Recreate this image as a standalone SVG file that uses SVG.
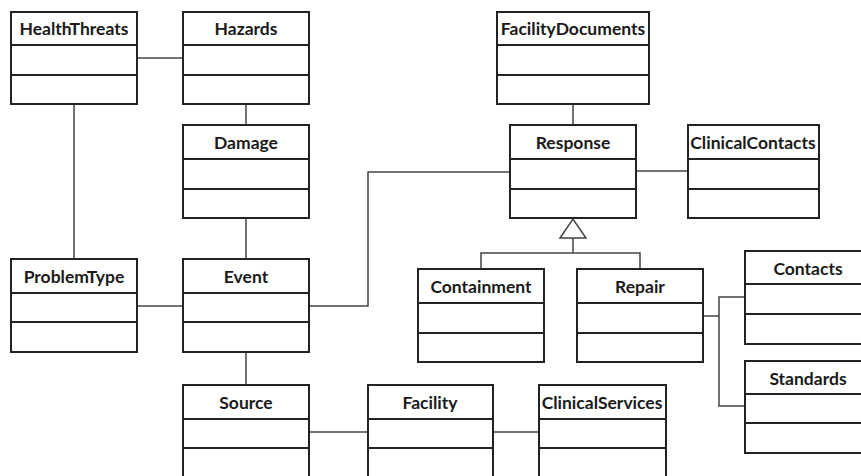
<svg xmlns="http://www.w3.org/2000/svg" width="861" height="476" viewBox="0 0 861 476">
<style>
.box{fill:#fff;stroke:#222;stroke-width:2}
.div{stroke:#222;stroke-width:2}
.t{font-family:Lato,"Open Sans","Liberation Sans",sans-serif;font-weight:bold;font-size:17.5px;fill:#1a1a1a;text-anchor:middle}
.c{fill:none;stroke:#444;stroke-width:1.5}
</style>
<rect width="861" height="476" fill="#fff"/>
<g id="connectors">
<path class="c" d="M137 58H183"/>
<path class="c" d="M246 104V125"/>
<path class="c" d="M246 218V259"/>
<path class="c" d="M74 104V259"/>
<path class="c" d="M137 306H183"/>
<path class="c" d="M246 352V385"/>
<path class="c" d="M309 306H368V172H510"/>
<path class="c" d="M573 104V125"/>
<path class="c" d="M636 171H688"/>
<path class="c" d="M573 238V253M481 269V253H640V269"/>
<path class="c" d="M560 238L573 219L586 238Z" fill="#fff"/>
<path class="c" d="M703 316H719M745 297H719V406H745"/>
<path class="c" d="M309 432H368"/>
<path class="c" d="M493 432H539"/>
</g>
<g id="HealthThreats"><rect class="box" x="11" y="12" width="126" height="92"/><path class="div" d="M11 45H137M11 75H137"/><text class="t" x="74" y="35">HealthThreats</text></g>
<g id="Hazards"><rect class="box" x="183" y="12" width="126" height="92"/><path class="div" d="M183 45H309M183 75H309"/><text class="t" x="246" y="35">Hazards</text></g>
<g id="Damage"><rect class="box" x="183" y="125" width="126" height="93"/><path class="div" d="M183 159H309M183 189H309"/><text class="t" x="246" y="149">Damage</text></g>
<g id="ProblemType"><rect class="box" x="11" y="259" width="126" height="93"/><path class="div" d="M11 293H137M11 322H137"/><text class="t" x="74" y="283">ProblemType</text></g>
<g id="Event"><rect class="box" x="183" y="259" width="126" height="93"/><path class="div" d="M183 293H309M183 322H309"/><text class="t" x="246" y="283">Event</text></g>
<g id="Source"><rect class="box" x="183" y="385" width="126" height="94"/><path class="div" d="M183 419H309M183 448H309"/><text class="t" x="246" y="409">Source</text></g>
<g id="Facility"><rect class="box" x="368" y="385" width="125" height="94"/><path class="div" d="M368 419H493M368 448H493"/><text class="t" x="430" y="409">Facility</text></g>
<g id="ClinicalServices"><rect class="box" x="539" y="385" width="127" height="94"/><path class="div" d="M539 419H666M539 448H666"/><text class="t" x="602" y="409">ClinicalServices</text></g>
<g id="FacilityDocuments"><rect class="box" x="497" y="12" width="152" height="92"/><path class="div" d="M497 45H649M497 75H649"/><text class="t" x="573" y="35">FacilityDocuments</text></g>
<g id="Response"><rect class="box" x="510" y="125" width="126" height="93"/><path class="div" d="M510 159H636M510 189H636"/><text class="t" x="573" y="149">Response</text></g>
<g id="ClinicalContacts"><rect class="box" x="688" y="125" width="131" height="93"/><path class="div" d="M688 159H819M688 189H819"/><text class="t" x="753" y="149">ClinicalContacts</text></g>
<g id="Containment"><rect class="box" x="418" y="269" width="126" height="93"/><path class="div" d="M418 303H544M418 333H544"/><text class="t" x="481" y="293">Containment</text></g>
<g id="Repair"><rect class="box" x="577" y="269" width="126" height="93"/><path class="div" d="M577 303H703M577 333H703"/><text class="t" x="640" y="293">Repair</text></g>
<g id="Contacts"><rect class="box" x="745" y="251" width="126" height="93"/><path class="div" d="M745 284H871M745 314H871"/><text class="t" x="808" y="275">Contacts</text></g>
<g id="Standards"><rect class="box" x="745" y="361" width="126" height="92"/><path class="div" d="M745 394H871M745 423H871"/><text class="t" x="808" y="385">Standards</text></g>
</svg>
